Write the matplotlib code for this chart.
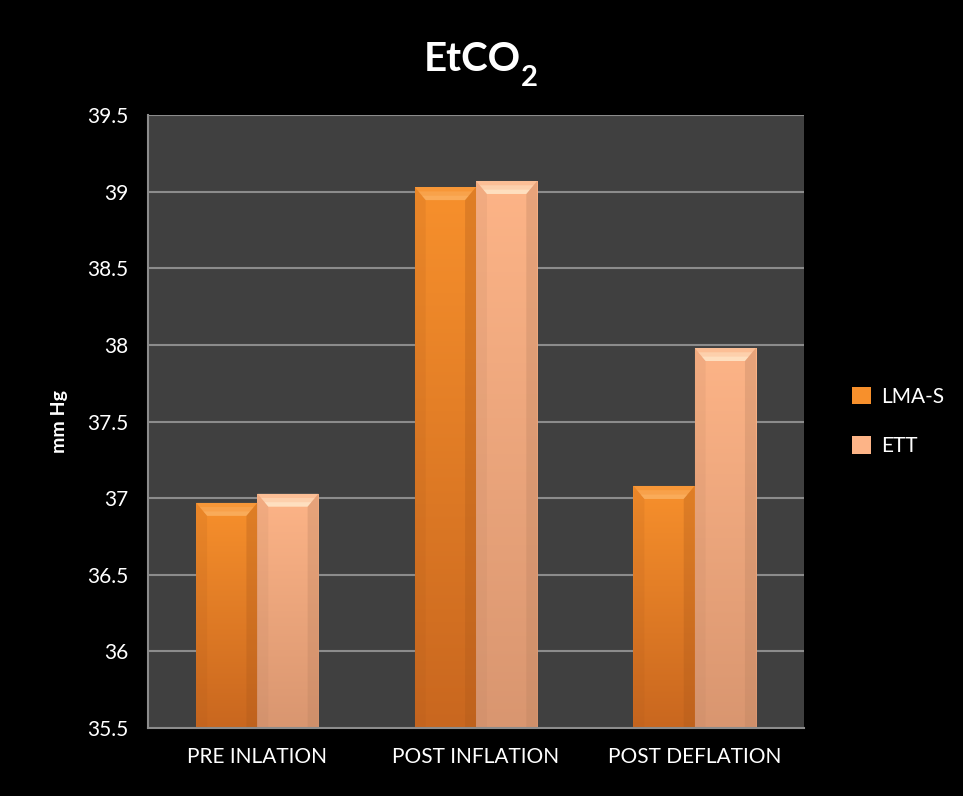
import numpy as np
import matplotlib.pyplot as plt
from matplotlib.patches import Polygon
from matplotlib.transforms import IdentityTransform
from matplotlib.colors import LinearSegmentedColormap, to_rgb

# ---------------------------
# данные
# ---------------------------
categories = ["PRE INLATION", "POST INFLATION", "POST DEFLATION"]
series_names = ["LMA-S", "ETT"]
lma_s = [36.97, 39.03, 37.08]
ett = [37.03, 39.07, 37.98]

y_min, y_max = 35.5, 39.5
y_ticks = [35.5, 36, 36.5, 37, 37.5, 38, 38.5, 39, 39.5]

# цвета: (верх, низ) градиента и цвет фаски
colors = {
    "LMA-S": ("#f7902c", "#c9671f", "#fbb060"),
    "ETT": ("#fdb487", "#d99670", "#ffe6c8"),
}

plt.rcParams["font.family"] = ["Lato", "DejaVu Sans"]

fig = plt.figure(figsize=(9.63, 7.96), dpi=100, facecolor="black")
ax = fig.add_axes([0.1537, 0.0854, 0.6812, 0.7701])
ax.set_facecolor("#404040")

x = np.arange(len(categories))
width = 0.28
ax.set_xlim(-0.5, len(categories) - 0.5)
ax.set_ylim(y_min, y_max)

# сетка
for t in y_ticks[1:]:
    ax.axhline(t, color="#8c8c8c", lw=1.5, zorder=1)


def bevel_bar(xc, val, name):
    top_c, bot_c, hi_c = colors[name]
    x0, x1 = xc - width / 2, xc + width / 2
    bars = ax.bar(xc, val - y_min, width, bottom=y_min, color=top_c,
                  edgecolor="none", zorder=2, label=name)
    patch = bars[0]
    # вертикальный градиент внутри столбика
    cmap = LinearSegmentedColormap.from_list(name, [bot_c, top_c])
    grad = np.linspace(0, 1, 256).reshape(-1, 1)
    im = ax.imshow(grad, cmap=cmap, origin="lower", aspect="auto",
                   extent=(x0, x1, y_min, val), zorder=3)
    im.set_clip_path(patch)
    # фаска: верх светлее (с плавным переходом), бока чуть темнее
    dx, dy = 0.05, 0.085
    dark = tuple(c * 0.85 for c in to_rgb(bot_c))
    for k, a in enumerate([0.25, 0.45, 0.7]):
        f = 1 - k / 3
        ax.add_patch(Polygon([(x0 + dx * (1 - f), val - dy * (1 - f)),
                              (x1 - dx * (1 - f), val - dy * (1 - f)),
                              (x1 - dx, val - dy), (x0 + dx, val - dy)],
                             closed=True, color=hi_c, alpha=a, lw=0, zorder=4))
    ax.add_patch(Polygon([(x0, val), (x0 + dx, val - dy), (x0 + dx, y_min), (x0, y_min)],
                         closed=True, color=dark, alpha=0.15, lw=0, zorder=4))
    ax.add_patch(Polygon([(x1, val), (x1 - dx, val - dy), (x1 - dx, y_min), (x1, y_min)],
                         closed=True, color=dark, alpha=0.3, lw=0, zorder=4))
    return bars


for i in range(len(categories)):
    bevel_bar(x[i] - width / 2, lma_s[i], "LMA-S")
    bevel_bar(x[i] + width / 2, ett[i], "ETT")

# оси
for side in ["top", "right"]:
    ax.spines[side].set_visible(False)
for side in ["left", "bottom"]:
    ax.spines[side].set_color("#8c8c8c")
    ax.spines[side].set_linewidth(1.5)
    ax.spines[side].set_zorder(5)

ax.set_yticks(y_ticks)
ax.set_yticklabels([f"{t:g}" for t in y_ticks])
ax.set_xticks(x)
ax.set_xticklabels(categories)
ax.tick_params(axis="both", length=0, colors="white", labelsize=15)
ax.tick_params(axis="x", pad=14)
ax.tick_params(axis="y", pad=14)

ax.set_ylabel("mm Hg", color="white", fontsize=14, fontweight="bold", labelpad=14)

# заголовок с нижним индексом
title = fig.text(0.49, 0.925, "EtCO", color="white", fontsize=29,
                 fontweight="bold", ha="center", va="center")
fig.canvas.draw()
bb = title.get_window_extent()
fig.text(bb.x1, bb.y0 - 8, "2", color="white", fontsize=21, fontweight="bold",
         ha="left", va="baseline", transform=IdentityTransform())

handles, labels = ax.get_legend_handles_labels()
leg = ax.legend(handles[:2], labels[:2], loc="center left",
                bbox_to_anchor=(1.045, 0.5), frameon=False,
                fontsize=15, labelcolor="white", handlelength=0.9,
                handleheight=0.9, labelspacing=1.4, handletextpad=0.5)

plt.savefig("out.png", dpi=100, facecolor="black")
